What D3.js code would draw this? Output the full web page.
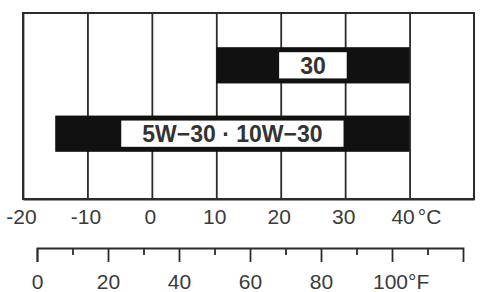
<!DOCTYPE html>
<html>
<head>
<meta charset="utf-8">
<script src="https://cdn.jsdelivr.net/npm/d3@7"></script>
<style>
  body { margin: 0; background: #fff; }
  text { font-family: "Liberation Sans", Arial, sans-serif; }
  .axis text { font-size: 21px; fill: #3a3a3a; }
  .axis path, .axis line { stroke: #2b2b2b; stroke-width: 1.8; }
</style>
</head>
<body>
<div id="vis"></div>
<script>
// oil grades and their temperature ranges (°C)
var grades = ["30", "5W\u221230 \u00b7 10W\u221230"];
var minTemp = [10, -15];
var maxTemp = [40, 40];

var celsiusTicks = [-20, -10, 0, 10, 20, 30, 40];
var fahrenheitTicks = [0, 20, 40, 60, 80, 100];
var fahrenheitMinor = [10, 30, 50, 70, 90, 110];

var width = 481,
    height = 292,
    frame = {left: 23, right: 474, top: 13, bottom: 199};

var svg = d3.select('#vis')
    .append('svg')
    .attr('width', width)
    .attr('height', height);

var x = d3.scaleLinear()
    .domain([-20, 50])
    .range([frame.left, frame.right]);

var y = d3.scaleBand()
    .domain(grades)
    .range([frame.top, 186])
    .paddingInner(0.47)
    .paddingOuter(0.5);

var fx = d3.scaleLinear()
    .domain([0, 120])
    .range([37, 463]);

// celsius axis, its ticks double as the grid lines
var cAxis = d3.axisBottom(x)
    .tickValues(celsiusTicks)
    .tickSizeInner(-(frame.bottom - frame.top))
    .tickSizeOuter(0)
    .tickPadding(10)
    .tickFormat(function(d) { return String(d); });

var cg = svg.append('g')
    .attr('class', 'axis')
    .attr('transform', 'translate(0,' + frame.bottom + ')')
    .call(cAxis);

cg.selectAll('.tick text').attr('dx', -2);

svg.append('rect')
    .attr('x', frame.left)
    .attr('y', frame.top)
    .attr('width', frame.right - frame.left)
    .attr('height', frame.bottom - frame.top)
    .attr('fill', 'none')
    .attr('stroke', '#2b2b2b')
    .attr('stroke-width', 2);

// unit after the last label
var lastC = cg.selectAll('.tick text').filter(function(d) { return d === 40; });
var lastW = lastC.node().getComputedTextLength();
lastC.append('tspan').attr('dx', 3).text('\u00b0C');
lastC.attr('text-anchor', 'start').attr('x', -lastW / 2 - 5);

// bars
var bar = svg.selectAll('.bar')
    .data(grades)
    .enter().append('g')
    .attr('class', 'bar');

bar.append('rect')
    .attr('x', function(d, i) { return x(minTemp[i]); })
    .attr('y', function(d) { return y(d); })
    .attr('width', function(d, i) { return x(maxTemp[i]) - x(minTemp[i]); })
    .attr('height', y.bandwidth())
    .attr('fill', '#111');

var label = bar.append('text')
    .attr('x', function(d, i) { return (x(minTemp[i]) + x(maxTemp[i])) / 2; })
    .attr('y', function(d) { return y(d) + y.bandwidth() / 2; })
    .attr('dy', '0.36em')
    .attr('text-anchor', 'middle')
    .attr('font-size', 23)
    .attr('font-weight', 'bold')
    .attr('fill', '#333')
    .text(function(d) { return d; });

label.each(function(d) {
    var w = this.getComputedTextLength();
    var cx = +d3.select(this).attr('x');
    d3.select(this.parentNode).insert('rect', 'text')
        .attr('x', cx - w / 2 - 21)
        .attr('y', y(d) + 5)
        .attr('width', w + 42)
        .attr('height', y.bandwidth() - 10)
        .attr('fill', '#fff');
});

// fahrenheit axis
var fAxis = d3.axisBottom(fx)
    .tickValues(fahrenheitTicks)
    .tickSizeInner(14)
    .tickSizeOuter(14)
    .tickPadding(12)
    .tickFormat(function(d) { return String(d); });

var fg = svg.append('g')
    .attr('class', 'axis')
    .attr('transform', 'translate(0,248)')
    .call(fAxis);

svg.append('g')
    .attr('class', 'axis')
    .attr('transform', 'translate(0,248)')
    .call(d3.axisBottom(fx).tickValues(fahrenheitMinor).tickSize(7).tickFormat(''))
    .select('.domain').remove();

var lastF = fg.selectAll('.tick text').filter(function(d) { return d === 100; });
var lastFW = lastF.node().getComputedTextLength();
lastF.append('tspan').text('\u00b0F');
lastF.attr('text-anchor', 'start').attr('x', -lastFW / 2 - 2);
</script>
</body>
</html>
